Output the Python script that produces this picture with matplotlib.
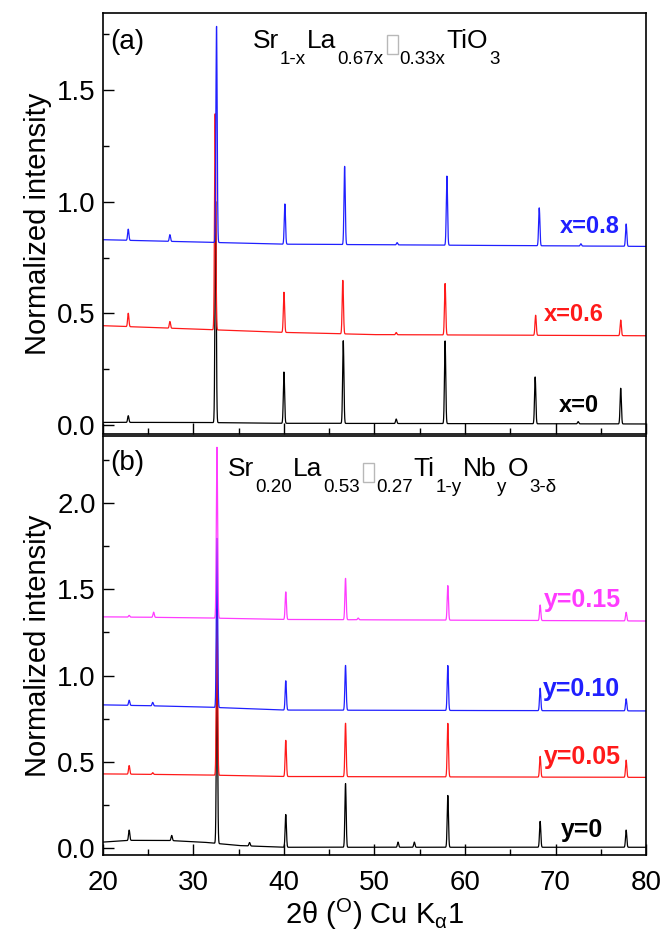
import numpy as np
import matplotlib.pyplot as plt
from matplotlib.ticker import MultipleLocator
from matplotlib.transforms import ScaledTranslation
from matplotlib.patches import Rectangle

plt.rcParams['font.family'] = ['Liberation Sans', 'DejaVu Sans']
plt.rcParams['mathtext.fontset'] = 'custom'
plt.rcParams['mathtext.rm'] = 'Liberation Sans'
plt.rcParams['mathtext.it'] = 'Liberation Sans:italic'

# 2theta grid for the simulated patterns
tt = np.linspace(20, 80, 4001)

# ---- (a) Sr1-x La0.67x TiO3 ----
a_x0_pos = [22.8, 32.45, 40.0, 46.55, 52.4, 57.8, 67.75, 72.5, 77.2]
a_x0_hgt = [0.03, 0.99, 0.23, 0.37, 0.02, 0.37, 0.21, 0.01, 0.16]
a_x0_base_x = [20, 30, 40, 80]
a_x0_base_y = [0.012, 0.012, 0.008, 0.005]

a_x6_pos = [22.8, 27.4, 32.4, 40.0, 46.5, 52.4, 57.8, 67.8, 77.2]
a_x6_hgt = [0.06, 0.03, 0.97, 0.18, 0.24, 0.01, 0.23, 0.09, 0.07]
a_x6_base_x = [20, 30, 40, 50, 80]
a_x6_base_y = [0.445, 0.43, 0.415, 0.405, 0.40]

a_x8_pos = [22.8, 27.4, 32.55, 40.1, 46.7, 52.5, 58.0, 68.2, 72.8, 77.8]
a_x8_hgt = [0.05, 0.03, 0.97, 0.18, 0.35, 0.01, 0.31, 0.17, 0.01, 0.10]
a_x8_base_x = [20, 30, 40, 80]
a_x8_base_y = [0.83, 0.82, 0.81, 0.80]

# ---- (b) Sr0.20 La0.53 Ti1-y Nby O3-d ----
b_y0_pos = [22.9, 27.6, 32.6, 36.2, 40.2, 46.8, 52.6, 54.4, 58.1, 68.3, 77.8]
b_y0_hgt = [0.06, 0.03, 0.99, 0.02, 0.19, 0.37, 0.03, 0.03, 0.30, 0.15, 0.10]
b_y0_base_x = [20, 23, 27, 31, 35, 40, 80]
b_y0_base_y = [0.035, 0.045, 0.045, 0.035, 0.015, 0.005, 0.005]

b_y5_pos = [22.9, 25.5, 32.6, 40.2, 46.8, 58.1, 68.3, 77.8]
b_y5_hgt = [0.05, 0.01, 0.99, 0.21, 0.31, 0.31, 0.12, 0.10]
b_y5_base_x = [20, 30, 40, 80]
b_y5_base_y = [0.43, 0.425, 0.415, 0.41]

b_y10_pos = [22.9, 25.5, 32.6, 40.2, 46.8, 58.1, 68.3, 77.8]
b_y10_hgt = [0.03, 0.02, 0.98, 0.17, 0.26, 0.26, 0.13, 0.07]
b_y10_base_x = [20, 30, 40, 80]
b_y10_base_y = [0.83, 0.82, 0.80, 0.795]

b_y15_pos = [22.9, 25.6, 32.6, 40.2, 46.8, 48.2, 58.1, 68.3, 77.8]
b_y15_hgt = [0.01, 0.03, 0.99, 0.16, 0.24, 0.01, 0.20, 0.09, 0.05]
b_y15_base_x = [20, 30, 40, 80]
b_y15_base_y = [1.34, 1.335, 1.325, 1.316]

RED = '#ff1a1a'
BLUE = '#2020ff'
MAG = '#ff3cff'


def pattern(pos, hgt, bx, by, w=0.07):
    y = np.interp(tt, bx, by)
    for p, h in zip(pos, hgt):
        y = y + h * np.exp(-0.5 * ((tt - p) / w) ** 2)
    return y


fig = plt.figure(figsize=(6.64, 9.36), dpi=100)
ax_a = fig.add_axes([0.155, 0.5363, 0.818, 0.4498])
ax_b = fig.add_axes([0.155, 0.0865, 0.818, 0.4477])

ax_a.plot(tt, pattern(a_x0_pos, a_x0_hgt, a_x0_base_x, a_x0_base_y), color='k', lw=0.9)
ax_a.plot(tt, pattern(a_x6_pos, a_x6_hgt, a_x6_base_x, a_x6_base_y), color=RED, lw=0.9)
ax_a.plot(tt, pattern(a_x8_pos, a_x8_hgt, a_x8_base_x, a_x8_base_y), color=BLUE, lw=0.9)

ax_b.plot(tt, pattern(b_y0_pos, b_y0_hgt, b_y0_base_x, b_y0_base_y), color='k', lw=0.9)
ax_b.plot(tt, pattern(b_y5_pos, b_y5_hgt, b_y5_base_x, b_y5_base_y), color=RED, lw=0.9)
ax_b.plot(tt, pattern(b_y10_pos, b_y10_hgt, b_y10_base_x, b_y10_base_y), color=BLUE, lw=0.9)
ax_b.plot(tt, pattern(b_y15_pos, b_y15_hgt, b_y15_base_x, b_y15_base_y), color=MAG, lw=0.9)

ax_a.set_ylim(-0.04, 1.845)
ax_b.set_ylim(-0.04, 2.388)

for ax in (ax_a, ax_b):
    ax.set_xlim(20, 80)
    ax.xaxis.set_major_locator(MultipleLocator(10))
    ax.xaxis.set_minor_locator(MultipleLocator(5))
    ax.yaxis.set_major_locator(MultipleLocator(0.5))
    ax.yaxis.set_minor_locator(MultipleLocator(0.25))
    ax.tick_params(which='both', direction='in', top=False, right=False,
                   labelsize=20, width=1.0)
    ax.tick_params(axis='y', pad=5)
    ax.tick_params(axis='x', pad=11)
    ax.tick_params(which='major', length=8)
    ax.tick_params(which='minor', length=4)
    for s in ax.spines.values():
        s.set_linewidth(1.2)
    ax.set_ylabel('Normalized intensity', fontsize=21, labelpad=4)
    ax.yaxis.set_major_formatter(plt.FormatStrFormatter('%.1f'))

ax_a.tick_params(labelbottom=False)
ax_b.set_xlabel(r'2$\mathrm{\theta}$ ($^{\rm O}$) Cu K$_{\mathrm{\alpha}}$1', fontsize=21, labelpad=0)

ax_a.text(0.013, 0.963, '(a)', transform=ax_a.transAxes, fontsize=20, va='top')
ax_b.text(0.013, 0.967, '(b)', transform=ax_b.transAxes, fontsize=20, va='top')

# series labels
ax_a.text(73.8, 0.86, 'x=0.8', color=BLUE, fontsize=17, fontweight='bold', ha='center')
ax_a.text(72.0, 0.465, 'x=0.6', color=RED, fontsize=17, fontweight='bold', ha='center')
ax_a.text(72.6, 0.06, 'x=0', color='k', fontsize=17, fontweight='bold', ha='center')

ax_b.text(73.0, 1.40, 'y=0.15', color=MAG, fontsize=18, fontweight='bold', ha='center')
ax_b.text(72.9, 0.88, 'y=0.10', color=BLUE, fontsize=18, fontweight='bold', ha='center')
ax_b.text(73.0, 0.49, 'y=0.05', color=RED, fontsize=18, fontweight='bold', ha='center')
ax_b.text(72.9, 0.065, 'y=0', color='k', fontsize=18, fontweight='bold', ha='center')


def formula(ax, x0, y0, parts, main=19, sub=13.5, drop=16):
    # lay out the chemical formula piece by piece, offsets in pixels
    renderer = fig.canvas.get_renderer()
    dpi = fig.dpi
    dx = 0.0
    for txt, kind in parts:
        if kind == 'box':
            # vacancy symbol: light grey open rectangle
            off = ScaledTranslation((dx + 2) / dpi, -6 / dpi, fig.dpi_scale_trans)
            r = Rectangle((0, 0), 11 / dpi, 19 / dpi, fill=False, ec='#b8b8b8', lw=1.0,
                          clip_on=False)
            r.set_transform(fig.dpi_scale_trans + ScaledTranslation(x0, y0, ax.transAxes) + off)
            ax.add_patch(r)
            dx += 15
            continue
        size, dy = (main, 0) if kind == 'n' else (sub, -drop)
        off = ScaledTranslation(dx / dpi, dy / dpi, fig.dpi_scale_trans)
        t = ax.text(x0, y0, txt, transform=ax.transAxes + off, fontsize=size,
                    color='k', ha='left', va='baseline')
        dx += t.get_window_extent(renderer).width + 1


formula(ax_a, 0.276, 0.918, [('Sr', 'n'), ('1-x', 's'), ('La', 'n'), ('0.67x', 's'),
                              ('', 'box'), ('0.33x', 's'), ('TiO', 'n'), ('3', 's')])
formula(ax_b, 0.230, 0.905, [('Sr', 'n'), ('0.20', 's'), ('La', 'n'), ('0.53', 's'),
                              ('', 'box'), ('0.27', 's'), ('Ti', 'n'), ('1-y', 's'),
                              ('Nb', 'n'), ('y', 's'), ('O', 'n'), ('3-\u03b4', 's')])

fig.savefig('out.png', dpi=100)
